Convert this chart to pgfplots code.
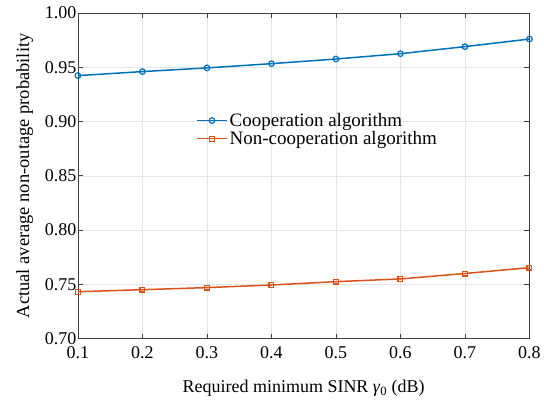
\documentclass[border=0pt]{standalone}
\usepackage{pgfplots}
\pgfplotsset{compat=1.18}
\usepackage{fontspec}
\setmainfont{Liberation Serif}
\usetikzlibrary{calc}
\definecolor{mblue}{rgb}{0,0.447,0.741}
\definecolor{mred}{rgb}{0.85,0.325,0.098}
\begin{document}
\begin{tikzpicture}
\begin{axis}[
  scale only axis, width=452pt, height=326pt,
  xmin=0.1, xmax=0.8, ymin=0.70, ymax=1.00,
  xtick={0.1,0.2,...,0.8}, ytick={0.70,0.75,...,1.00},
  xticklabel style={/pgf/number format/.cd,fixed,precision=1,zerofill,/tikz/.cd,yshift=-4pt},
  yticklabel style={/pgf/number format/.cd,fixed,precision=2,zerofill,/tikz/.cd,xshift=2pt},
  /pgf/number format/assume math mode=true,
  tick label style={font=\fontsize{18}{20}\selectfont},
  xlabel style={font=\fontsize{18}{20}\selectfont, yshift=-15pt},
  ylabel style={font=\fontsize{18.5}{20}\selectfont, yshift=5pt},
  grid=major, major grid style={gray!20, line width=0.6pt},
  axis line style={black!75, line width=0.7pt},
  tick style={black!75, line width=0.7pt},
  tick align=inside, major tick length=5pt,
  xlabel={Required minimum SINR \textit{γ}\textsubscript{0} (dB)},
  ylabel={Actual average non-outage probability},
  legend style={draw=none, fill=none, at={(0.255,0.705)}, anchor=north west,
    font=\fontsize{19}{19}\selectfont, row sep=-0.5pt},
  legend cell align=left,
  legend image code/.code={\draw[mark repeat=2,mark phase=2,#1] plot coordinates {(0pt,0pt) (15pt,0pt) (30pt,0pt)};},
]
\addplot[mblue, line width=1.5pt, mark=o, mark size=2.8pt, mark options={line width=1.2pt}] coordinates {
(0.1,0.9423) (0.2,0.9460) (0.3,0.9494) (0.4,0.9533) (0.5,0.9576) (0.6,0.9625) (0.7,0.9690) (0.8,0.9760)};
\addplot[mred, line width=1.5pt, mark=square, mark size=2.4pt, mark options={line width=1.2pt}] coordinates {
(0.1,0.7432) (0.2,0.7451) (0.3,0.7470) (0.4,0.7494) (0.5,0.7525) (0.6,0.7550) (0.7,0.7600) (0.8,0.7654)};
\legend{Cooperation algorithm, Non-cooperation algorithm}
\end{axis}
\path[use as bounding box] ($(current axis.south west)+(-78pt,-66pt)$) rectangle ($(current axis.north east)+(14pt,13pt)$);
\end{tikzpicture}
\end{document}
